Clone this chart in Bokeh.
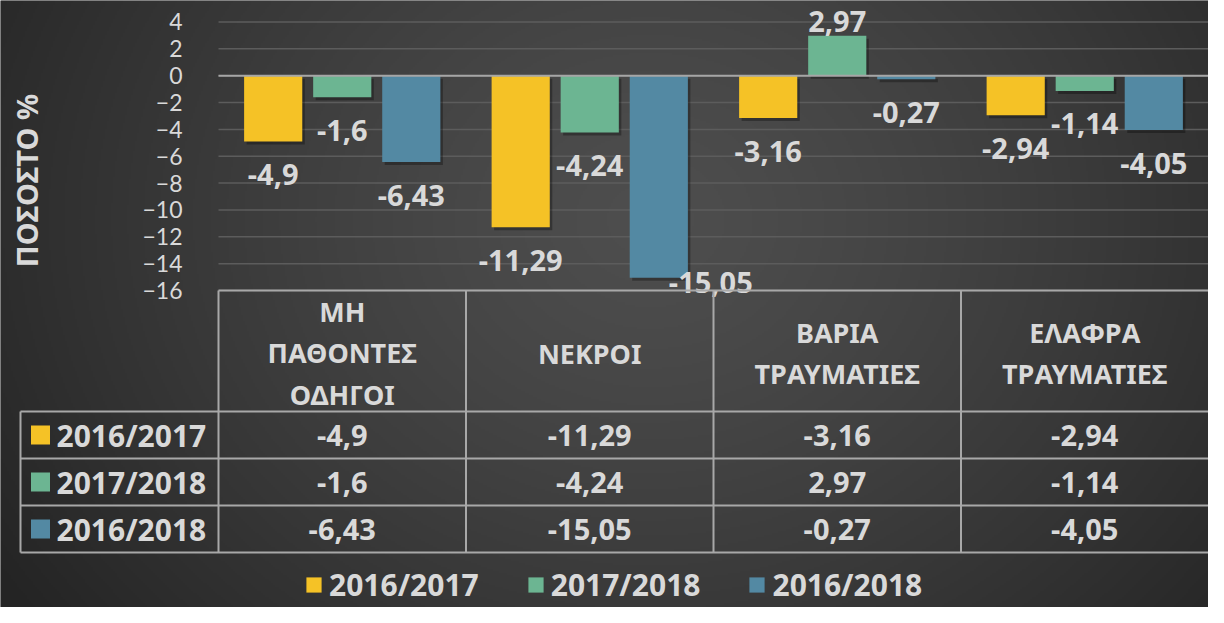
import numpy as np
from bokeh.plotting import figure
from bokeh.models import Range1d, FixedTicker, Legend, LegendItem
from bokeh.embed import file_html
from bokeh.resources import INLINE
from bokeh.core.properties import value

# ---------------- data ----------------
categories = ["ΜΗ\nΠΑΘΟΝΤΕΣ\nΟΔΗΓΟΙ", "ΝΕΚΡΟΙ", "ΒΑΡΙΑ\nΤΡΑΥΜΑΤΙΕΣ", "ΕΛΑΦΡΑ\nΤΡΑΥΜΑΤΙΕΣ"]
series_names = ["2016/2017", "2017/2018", "2016/2018"]
vals_2016_2017 = [-4.9, -11.29, -3.16, -2.94]
vals_2017_2018 = [-1.6, -4.24, 2.97, -1.14]
vals_2016_2018 = [-6.43, -15.05, -0.27, -4.05]
y_ticks = [-16, -14, -12, -10, -8, -6, -4, -2, 0, 2, 4]
y_label = "ΠΟΣΟΣΤΟ %"

series_values = [vals_2016_2017, vals_2017_2018, vals_2016_2018]
series_colors = ["#F5C226", "#6CB592", "#5389A3"]

# ---------------- style / layout ----------------
TXT = "#d9d9d9"
GRID = "#5c5c5c"
TABLE_LINE = "#a8a8a8"
FONT = "Noto Sans"
W, H = 1208, 607
LEFT = 218                 # px where the category area starts
CHART_H = 290              # px height of the bar chart area
Y0, Y1 = -16, 5.6
PXU_X = (W - LEFT) / 4.0
PXU_Y = CHART_H / (Y1 - Y0)
XS = -0.5 - LEFT / PXU_X
YB = Y1 - H / PXU_Y
OFFSETS = [-0.279, 0.0, 0.279]
BAR_W = 0.235


def ypx(px):
    """convert px from top into y data units"""
    return Y1 - px / PXU_Y


def xpx(px):
    return XS + px / PXU_X


def fmt(v):
    return f"{v:g}".replace(".", ",")


idx = np.arange(len(categories), dtype=float)

p = figure(width=W, height=H, x_range=Range1d(XS, 3.5), y_range=Range1d(YB, Y1),
           x_axis_location=None, output_backend="svg", toolbar_location=None,
           min_border_left=0, min_border_right=0, min_border_top=0, min_border_bottom=0,
           background_fill_color="#404040", border_fill_color="#404040", outline_line_color=None)
p.xgrid.visible = False
p.ygrid.visible = False

# background radial shading
ny, nx = H // 2, W // 2
gy, gx = np.mgrid[0:ny, 0:nx]
X = (gx + 0.5) * 2.0
Yt = (H - (gy + 0.5) * 2.0)           # px from top (row 0 is bottom)
r = np.sqrt((X - 650.0) ** 2 + ((Yt - 220.0) / 0.85) ** 2)
tt = np.clip(r / 780.0, 0, 1) ** 1.3
g = (78 - (78 - 36) * tt).astype(np.uint32)
img = (255 << 24) | (g << 16) | (g << 8) | g
p.image_rgba(image=[img.astype(np.uint32)], x=XS, y=YB, dw=3.5 - XS, dh=Y1 - YB)

# y axis pinned at the start of the category area
ax = p.yaxis[0]
ax.fixed_location = -0.5
ax.ticker = FixedTicker(ticks=y_ticks)
ax.axis_line_color = None
ax.major_tick_line_color = None
ax.minor_tick_line_color = None
ax.major_label_standoff = 30
ax.major_label_text_font = "Lato"
ax.major_label_text_font_size = "23px"
ax.major_label_text_color = TXT

# gridlines over the category area
p.segment(x0=-0.5, x1=3.5, y0=y_ticks, y1=y_ticks, line_color=GRID, line_width=1.5)

# axis title
p.text(x=[xpx(26)], y=[ypx(180)], text=[y_label], angle=np.pi / 2, text_align="center",
       text_baseline="middle", text_font=value(FONT), text_font_style="bold",
       text_font_size="29px", text_color=TXT)

# bars
dy = 3.0 / PXU_Y
dx = 2.5 / PXU_X
for vals, off in zip(series_values, OFFSETS):
    v = np.array(vals)
    p.vbar(x=idx + off + dx, top=np.maximum(v, 0) - dy, bottom=np.minimum(v, 0) - dy,
           width=BAR_W, fill_color="black", fill_alpha=0.3, line_color=None)
for vals, color, off in zip(series_values, series_colors, OFFSETS):
    p.vbar(x=idx + off, top=vals, bottom=0, width=BAR_W, fill_color=color, line_color=None)

p.segment(x0=[-0.5], x1=[3.5], y0=[0], y1=[0], line_color="#a6a6a6", line_width=2)

# data labels (outside end, kept inside the plot area)
lab_off_neg = 33.0 / PXU_Y
lab_off_pos = 14.0 / PXU_Y
lab_min = Y0 + 8.0 / PXU_Y
for vals, off in zip(series_values, OFFSETS):
    v = np.array(vals)
    ly = np.where(v < 0, v - lab_off_neg, v + lab_off_pos)
    clamped = ly < lab_min
    ly = np.maximum(ly, lab_min)
    xo = np.where(clamped, 52.0, 0.0)
    p.text(x=idx + off, y=ly, x_offset=xo, text=[fmt(x) for x in vals], text_align="center",
           text_baseline="middle", text_font=value(FONT), text_font_style="bold",
           text_font_size="29px", text_color=TXT)

# ---------------- data table ----------------
HEAD_TOP = CHART_H
HEAD_BOT = 411
ROW_H = 47
TABLE_BOT = HEAD_BOT + 3 * ROW_H
X_LEFT = xpx(20)

x0s, x1s, y0s, y1s = [], [], [], []
x0s.append(-0.5); x1s.append(3.5); y0s.append(ypx(HEAD_TOP)); y1s.append(ypx(HEAD_TOP))
for k in range(4):
    yy = ypx(HEAD_BOT + ROW_H * k)
    x0s.append(X_LEFT); x1s.append(3.5); y0s.append(yy); y1s.append(yy)
for c in range(4):
    x0s.append(c - 0.5); x1s.append(c - 0.5); y0s.append(ypx(HEAD_TOP)); y1s.append(ypx(TABLE_BOT))
x0s.append(X_LEFT); x1s.append(X_LEFT); y0s.append(ypx(HEAD_BOT)); y1s.append(ypx(TABLE_BOT))
p.segment(x0=x0s, y0=y0s, x1=x1s, y1=y1s, line_color=TABLE_LINE, line_width=2)

p.text(x=idx, y=[ypx((HEAD_TOP + HEAD_BOT) / 2 + 2)] * 4, text=categories, text_align="center",
       text_baseline="middle", text_font=value(FONT), text_font_style="bold",
       text_font_size="27px", text_color=TXT, text_line_height=1.12)

sq_x = xpx(40)
lbl_x = xpx(56)
legend_items = []
for k, (name, vals, color) in enumerate(zip(series_names, series_values, series_colors)):
    ry = ypx(HEAD_BOT + ROW_H * (k + 0.5))
    rr = p.rect(x=[sq_x], y=[ry], width=19, height=19, width_units="screen", height_units="screen",
                fill_color=color, line_color=None)
    legend_items.append(LegendItem(label=name, renderers=[rr]))
    p.text(x=[lbl_x], y=[ry], text=[name], text_align="left", text_baseline="middle",
           text_font=value(FONT), text_font_style="bold", text_font_size="30px", text_color=TXT)
    p.text(x=idx, y=[ry] * 4, text=[fmt(v) for v in vals], text_align="center",
           text_baseline="middle", text_font=value(FONT), text_font_style="bold",
           text_font_size="29px", text_color=TXT)

legend = Legend(items=legend_items, orientation="horizontal", location=(304, 2),
                label_text_font=FONT, label_text_font_style="bold", label_text_font_size="30px",
                label_text_color=TXT, background_fill_alpha=0, border_line_alpha=0,
                padding=0, margin=0, spacing=47, label_standoff=6,
                glyph_width=19, glyph_height=19)
p.add_layout(legend)

open("out.html", "w").write(file_html(p, INLINE))
